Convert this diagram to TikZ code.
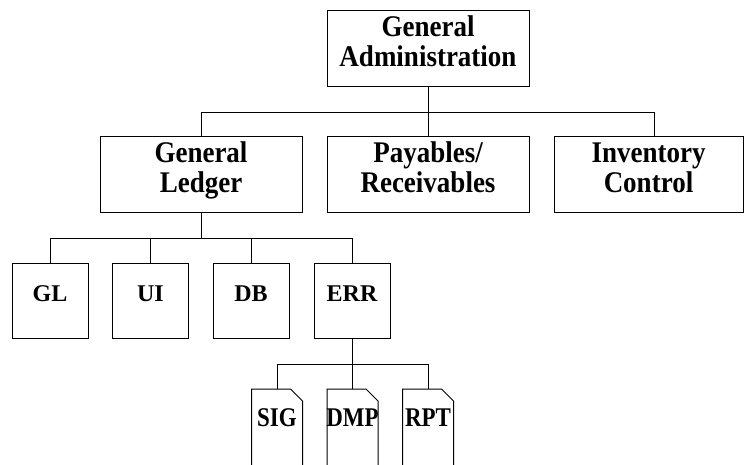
\documentclass[tikz,border=0pt]{standalone}
\usepackage{fontspec}
\setmainfont{Liberation Serif}
\newfontfamily\unitfont[FakeStretch=0.9]{Liberation Serif}
\newfontfamily\docfont[FakeStretch=0.85]{Liberation Serif}
\begin{document}
\begin{tikzpicture}[x=1pt,y=-1pt,line width=1pt,
    unit/.style={draw, align=center, inner sep=0pt, text depth=14pt,
        minimum width=202pt, minimum height=76pt,
        font=\unitfont\bfseries\fontsize{30}{30}\selectfont},
    module/.style={draw, inner sep=0pt, text depth=14pt,
        minimum width=76pt, minimum height=75pt,
        font=\bfseries\fontsize{24}{26}\selectfont},
    docpage/.style={anchor=north, inner sep=0pt, minimum width=50pt, minimum height=110pt},
    doclabel/.style={anchor=north, inner sep=0pt, font=\docfont\bfseries\fontsize{27}{28}\selectfont}]
    \clip (0,0) rectangle (744,464);
    \node[unit] (admin) at (428,48) {General\\Administration};
    \node[unit] (ledger) at (201,174.5) {General\\Ledger};
    \node[unit] (pay) at (428,174.5) {Payables/\\Receivables};
    \node[unit, minimum width=189pt] (inv) at (648.5,174.5) {Inventory\\Control};
    \node[module] (gl) at (50,300.5) {GL};
    \node[module] (ui) at (150.5,300.5) {UI};
    \node[module] (db) at (251,300.5) {DB};
    \node[module] (err) at (352,300.5) {ERR};
    \node[docpage] (sig) at (277,389) {};
    \node[docpage] (dmp) at (352.5,389) {};
    \node[docpage] (rpt) at (428,389) {};
    \foreach \d/\t in {sig/SIG,dmp/DMP,rpt/RPT} {
        \draw (\d.south west) -- (\d.north west) -- ([xshift=-12pt]\d.north east)
            -- ([yshift=-12pt]\d.north east) -- (\d.south east);
        \node[doclabel] (\d txt) at ([yshift=-19pt]\d.north) {\t};
    }
    \coordinate (top bar) at (428,112);
    \coordinate (ledger bar) at (201,238);
    \coordinate (err bar) at (352,364);
    \draw (admin.south) -- (top bar);
    \draw (ledger.north) |- (top bar);
    \draw (pay.north) -- (top bar);
    \draw ([xshift=5.5pt]inv.north) |- (top bar);
    \draw (ledger.south) -- (ledger bar);
    \foreach \m in {gl,ui,db,err}
        \draw (\m.north) |- (ledger bar);
    \draw (err.south) -- (err bar);
    \foreach \d in {sig,dmp,rpt}
        \draw (\d.north) |- (err bar);
\end{tikzpicture}
\end{document}
